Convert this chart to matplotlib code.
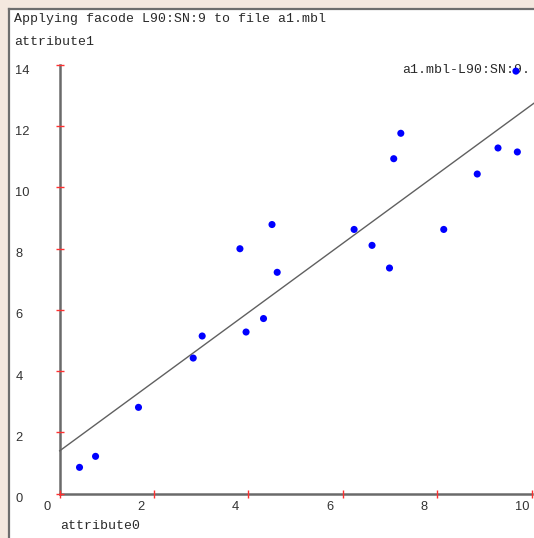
import matplotlib
matplotlib.use("Agg")
import matplotlib.pyplot as plt
from matplotlib.patches import Rectangle
from matplotlib.lines import Line2D

# ---- data ----
attr0 = [0.42, 0.76, 1.67, 2.83, 3.02, 3.82, 3.95, 4.32, 4.50, 4.61,
         6.24, 6.62, 6.99, 7.08, 7.23, 8.14, 8.85, 9.29, 9.70, 9.67]
attr1 = [0.86, 1.22, 2.82, 4.43, 5.15, 8.00, 5.28, 5.72, 8.79, 7.23,
         8.63, 8.11, 7.37, 10.94, 11.77, 8.63, 10.44, 11.29, 11.16, 13.80]
fit_x = [0.0, 10.05]
fit_y = [1.40, 12.75]
x_ticks = [0, 2, 4, 6, 8, 10]
y_ticks = [0, 2, 4, 6, 8, 10, 12, 14]
title = "Applying facode L90:SN:9 to file a1.mbl"
series_label = "a1.mbl-L90:SN:9."
x_name = "attribute0"
y_name = "attribute1"

W, H = 534, 538
fig = plt.figure(figsize=(W / 100, H / 100), dpi=100)
fig.patch.set_facecolor("#f4e8df")

def fx(px):
    return px / W

def fy(py):
    return 1 - py / H

# white panel with grey border on left and top
fig.add_artist(Rectangle((fx(9), 0), 1 - fx(9), fy(8.5), transform=fig.transFigure,
                         facecolor="white", edgecolor="none", zorder=0))
fig.add_artist(Line2D([fx(9), fx(9)], [0, fy(8.5)], transform=fig.transFigure,
                      color="#6e6e6e", lw=1.6, zorder=1))
fig.add_artist(Line2D([fx(9), 1], [fy(8.5), fy(8.5)], transform=fig.transFigure,
                      color="#6e6e6e", lw=1.6, zorder=1))

mono = "Liberation Mono"
sans = "Liberation Sans"
tcol = "#2a2a2a"
mfs = 9.55

fig.text(fx(14), fy(19), title, family=mono, fontsize=mfs, color=tcol, va="center", ha="left")
fig.text(fx(14), fy(42), y_name, family=mono, fontsize=mfs, color=tcol, va="center", ha="left")
fig.text(fx(60), fy(526), x_name, family=mono, fontsize=mfs, color=tcol, va="center", ha="left")

# axes
x0, x1 = 59.7, 531.5
y0, y1 = 493.7, 65.0
ax = fig.add_axes([fx(x0), fy(y0), fx(x1) - fx(x0), fy(y1) - fy(y0)])
ax.set_xlim(0, 10)
ax.set_ylim(0, 14)
ax.patch.set_visible(False)
for s in ["top", "right"]:
    ax.spines[s].set_visible(False)
for s in ["left", "bottom"]:
    ax.spines[s].set_color("#6a6a6a")
    ax.spines[s].set_linewidth(1.8)
    ax.spines[s].set_zorder(1)
ax.set_xticks(x_ticks)
ax.set_yticks(y_ticks)
ax.tick_params(direction="inout", length=6, width=1, color="#ff3030",
               labelbottom=False, labelleft=False)

for v in x_ticks:
    ax.annotate(str(v), (v, 0), xycoords="data", xytext=(-16.5, -13),
                textcoords="offset pixels", family=sans, fontsize=9.3,
                color="#333333", ha="left", va="center", annotation_clip=False)
for v in y_ticks:
    ax.annotate(str(v), (0, v), xycoords="data", xytext=(15.5 - x0, -5.5),
                textcoords="offset pixels", family=sans, fontsize=9.3,
                color="#333333", ha="left", va="center", annotation_clip=False)

ax.plot(fit_x, fit_y, color="#606060", lw=1.0, clip_on=False, zorder=2)
fig.text(fx(530), fy(70), series_label, family=mono, fontsize=mfs, color=tcol,
         va="center", ha="right", zorder=3)
ax.scatter(attr0, attr1, s=26, color="#0000ff", edgecolors="none", zorder=5, clip_on=False)
ax.set_zorder(5)

fig.savefig("out.png", dpi=100, facecolor=fig.get_facecolor())
